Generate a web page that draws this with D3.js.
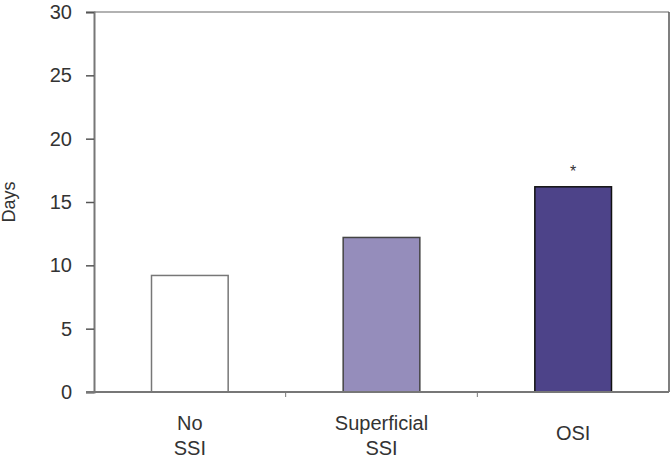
<!DOCTYPE html>
<html>
<head>
<meta charset="utf-8">
<script src="https://cdn.jsdelivr.net/npm/d3@7"></script>
<style>
  body { margin: 0; background: #fff; }
  text { font-family: "Liberation Sans", Arial, sans-serif; fill: #333; }
</style>
</head>
<body>
<div id="chart"></div>
<script>
var categories = ["No SSI", "Superficial SSI", "OSI"];
var labelLines = [["No", "SSI"], ["Superficial", "SSI"], ["OSI"]];
var days = [9.2, 12.2, 16.2];
var marks = ["", "", "*"];
var yTicks = [0, 5, 10, 15, 20, 25, 30];

var width = 670, height = 462;
var margin = { top: 12, right: 1, bottom: 70, left: 94 };
var w = width - margin.left - margin.right;
var h = height - margin.top - margin.bottom;

var fills = ["#ffffff", "#958dbb", "#4d4389"];
var strokes = ["#777777", "#444444", "#111111"];

var svg = d3.select("#chart").append("svg")
    .attr("width", width)
    .attr("height", height);

var g = svg.append("g")
    .attr("transform", "translate(" + margin.left + "," + margin.top + ")");

var xa = d3.scaleBand()
    .domain(categories)
    .range([0, w])
    .padding(0);

var ya = d3.scaleLinear()
    .domain([0, 30])
    .range([h, 0]);

//frame top and right
g.append("line")
    .attr("x1", 0).attr("x2", w)
    .attr("y1", 0).attr("y2", 0)
    .attr("stroke", "#999").attr("stroke-width", 1.5);
g.append("line")
    .attr("x1", w).attr("x2", w)
    .attr("y1", 0).attr("y2", h)
    .attr("stroke", "#555").attr("stroke-width", 1.5);

//bars
var barW = xa.bandwidth() * 0.4;
g.selectAll(".bar")
    .data(days).enter().append("rect")
    .attr("class", "bar")
    .attr("x", function(d, i) { return xa(categories[i]) + (xa.bandwidth() - barW) / 2; })
    .attr("y", function(d) { return ya(d); })
    .attr("width", barW)
    .attr("height", function(d) { return h - ya(d); })
    .attr("fill", function(d, i) { return fills[i]; })
    .attr("stroke", function(d, i) { return strokes[i]; })
    .attr("stroke-width", 1.5);

//significance marks
g.selectAll(".mark")
    .data(days).enter().append("text")
    .attr("class", "mark")
    .attr("x", function(d, i) { return xa(categories[i]) + xa.bandwidth() / 2; })
    .attr("y", function(d) { return ya(d) - 10; })
    .style("text-anchor", "middle")
    .style("font-size", "16px")
    .text(function(d, i) { return marks[i]; });

//y axis
var yAxis = d3.axisLeft(ya).tickValues(yTicks).tickSize(8).tickPadding(14);
var yg = g.append("g").call(yAxis);
yg.select(".domain").attr("stroke", "#777").attr("stroke-width", 2);
yg.selectAll(".tick line").attr("stroke", "#555").attr("stroke-width", 1.5);
yg.selectAll(".tick text")
    .style("font-size", "20px")
    .attr("fill", "#333");

//x axis
var xg = g.append("g").attr("transform", "translate(0," + h + ")");
xg.append("line")
    .attr("x1", -8).attr("x2", w)
    .attr("stroke", "#777").attr("stroke-width", 2);
xg.selectAll(".xtick")
    .data(categories.slice(1)).enter().append("line")
    .attr("x1", function(d) { return xa(d); })
    .attr("x2", function(d) { return xa(d); })
    .attr("y1", 0).attr("y2", 5)
    .attr("stroke", "#777").attr("stroke-width", 1);

var lab = xg.selectAll(".xlabel")
    .data(labelLines).enter().append("text")
    .attr("class", "xlabel")
    .attr("x", function(d, i) { return xa(categories[i]) + xa.bandwidth() / 2; })
    .attr("y", function(d) { return d.length > 1 ? 38 : 48; })
    .style("text-anchor", "middle")
    .style("font-size", "20px");
lab.selectAll("tspan")
    .data(function(d) { return d; }).enter().append("tspan")
    .attr("x", function() { return d3.select(this.parentNode).attr("x"); })
    .attr("dy", function(d, j) { return j === 0 ? 0 : 25; })
    .text(function(d) { return d; });

//y label
svg.append("text")
    .attr("transform", "translate(15," + (margin.top + ya(15)) + ") rotate(-90)")
    .style("text-anchor", "middle")
    .style("font-size", "18px")
    .text("Days");
</script>
</body>
</html>
